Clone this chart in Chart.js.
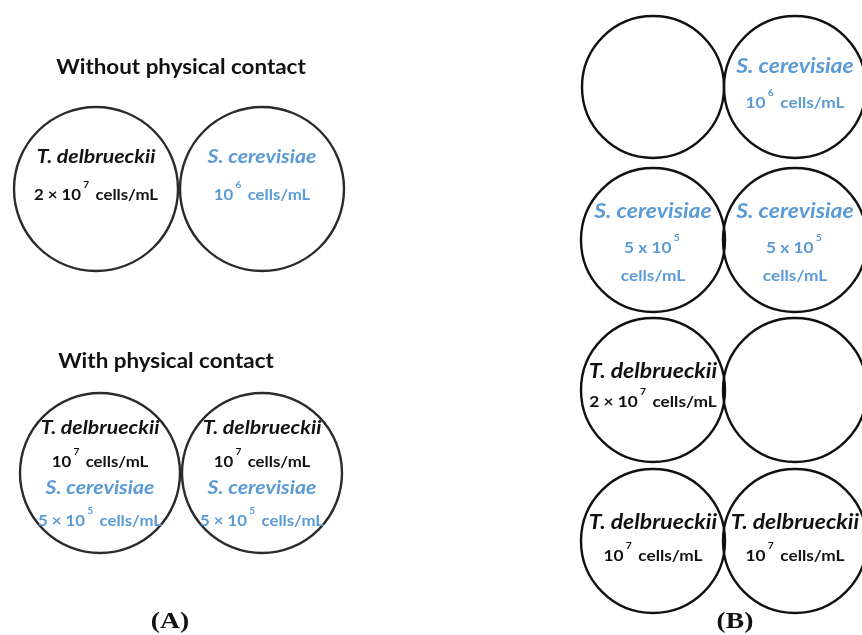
<!DOCTYPE html>
<html>
<head>
<meta charset="utf-8">
<script src="https://cdn.jsdelivr.net/npm/chart.js@4/dist/chart.umd.min.js"></script>
<style>
  html, body { margin: 0; padding: 0; background: #fff; }
  canvas { display: block; }
</style>
</head>
<body>
<canvas id="wells" width="862" height="635"></canvas>
<script>
// well centres / radii (figure units, 862 x 635 frame)
const wellX = [96, 262, 100, 262, 653, 795, 653, 795, 653, 795, 653, 795];
const wellY = [189, 189, 473, 473, 87, 87, 240, 240, 390, 390, 541, 541];
const wellR = [82, 82, 80, 80, 71, 71, 72, 72, 72, 72, 72, 72];

// text inside each well, one entry per line: [text, kind]
// kind: td = T. delbrueckii (black), sc = S. cerevisiae (blue)
const wellLines = [
  [['T. delbrueckii', 'td'], ['2 × 10^7 cells/mL', 'td']],
  [['S. cerevisiae', 'sc'], ['10^6 cells/mL', 'sc']],
  [['T. delbrueckii', 'td'], ['10^7 cells/mL', 'td'], ['S. cerevisiae', 'sc'], ['5 × 10^5 cells/mL', 'sc']],
  [['T. delbrueckii', 'td'], ['10^7 cells/mL', 'td'], ['S. cerevisiae', 'sc'], ['5 × 10^5 cells/mL', 'sc']],
  [],
  [['S. cerevisiae', 'sc'], ['10^6 cells/mL', 'sc']],
  [['S. cerevisiae', 'sc'], ['5 x 10^5', 'sc'], ['cells/mL', 'sc']],
  [['S. cerevisiae', 'sc'], ['5 x 10^5', 'sc'], ['cells/mL', 'sc']],
  [['T. delbrueckii', 'td'], ['2 × 10^7 cells/mL', 'td']],
  [],
  [['T. delbrueckii', 'td'], ['10^7 cells/mL', 'td']],
  [['T. delbrueckii', 'td'], ['10^7 cells/mL', 'td']]
];
// y of each text line
const wellLineY = [
  [157, 195],
  [157, 195],
  [428, 462, 488, 521],
  [428, 462, 488, 521],
  [],
  [67, 103],
  [212, 248, 276],
  [212, 248, 276],
  [372, 402],
  [],
  [523, 556],
  [523, 556]
];

const headings = ['Without physical contact', 'With physical contact'];
const headingX = [181, 166];
const headingY = [68, 362];

const panelLabels = ['(A)', '(B)'];
const panelX = [170, 735];
const panelY = [622, 622];

const BLACK = '#111111';
const BLUE = '#5b9bd5';
const SANS = 'Lato, "Open Sans", sans-serif';

function drawRich(ctx, text, cx, cy, baseFont, supFont, stretch) {
  // split "a^7 b" into normal / superscript pieces
  const parts = [];
  const re = /\^(\d)/g;
  let last = 0, m;
  while ((m = re.exec(text)) !== null) {
    parts.push([text.slice(last, m.index), false]);
    parts.push([m[1], true]);
    last = re.lastIndex;
  }
  parts.push([text.slice(last), false]);

  let total = 0;
  parts.forEach(p => {
    ctx.font = p[1] ? supFont : baseFont;
    total += ctx.measureText(p[0]).width + (p[1] ? 4 : 0);
  });
  ctx.save();
  ctx.translate(cx, cy);
  ctx.scale(stretch, 1);
  let x = -total / 2;
  ctx.textAlign = 'left';
  parts.forEach(p => {
    ctx.font = p[1] ? supFont : baseFont;
    const w = ctx.measureText(p[0]).width;
    if (p[1]) {
      ctx.fillText(p[0], x + 2, -10);
      x += w + 4;
    } else {
      ctx.fillText(p[0], x, 0);
      x += w;
    }
  });
  ctx.restore();
}

const textPlugin = {
  id: 'wellText',
  afterDatasetsDraw(chart) {
    const ctx = chart.ctx;
    const xs = chart.scales.x, ys = chart.scales.y;
    ctx.save();
    ctx.textBaseline = 'middle';

    wellLines.forEach((lines, i) => {
      const panelB = wellX[i] > 431;
      lines.forEach((ln, j) => {
        const [txt, kind] = ln;
        ctx.fillStyle = kind === 'sc' ? BLUE : BLACK;
        const px = xs.getPixelForValue(wellX[i]);
        const py = ys.getPixelForValue(wellLineY[i][j]);
        const species = txt.indexOf('.') === 1;
        let font;
        if (species) font = 'italic bold ' + (panelB ? 20 : 19) + 'px ' + SANS;
        else font = 'bold 15px ' + SANS;
        drawRich(ctx, txt, px, py, font, 'bold 9px ' + SANS, panelB ? 1.15 : 1.12);
      });
    });

    ctx.fillStyle = BLACK;
    headings.forEach((h, i) => {
      drawRich(ctx, h, xs.getPixelForValue(headingX[i]), ys.getPixelForValue(headingY[i]),
        'bold 20px ' + SANS, 'bold 9px ' + SANS, 1.12);
    });
    panelLabels.forEach((l, i) => {
      drawRich(ctx, l, xs.getPixelForValue(panelX[i]), ys.getPixelForValue(panelY[i]),
        'bold 23px "Liberation Serif", "DejaVu Serif", serif', 'bold 9px serif', 1.2);
    });
    ctx.restore();
  }
};

new Chart(document.getElementById('wells'), {
  type: 'bubble',
  data: {
    datasets: [{
      data: wellX.map((x, i) => ({ x: x, y: wellY[i], r: wellR[i] })),
      backgroundColor: 'rgba(255,255,255,0)',
      borderColor: wellX.map(x => x > 431 ? '#111111' : '#2b2b2b'),
      borderWidth: 2.4,
      hoverRadius: 0,
      clip: false
    }]
  },
  options: {
    responsive: false,
    animation: false,
    events: [],
    layout: { padding: 0, autoPadding: false },
    plugins: { legend: { display: false }, tooltip: { enabled: false } },
    scales: {
      x: { type: 'linear', min: 0, max: 862, display: false },
      y: { type: 'linear', min: 0, max: 635, reverse: true, display: false }
    }
  },
  plugins: [textPlugin]
});
</script>
</body>
</html>
